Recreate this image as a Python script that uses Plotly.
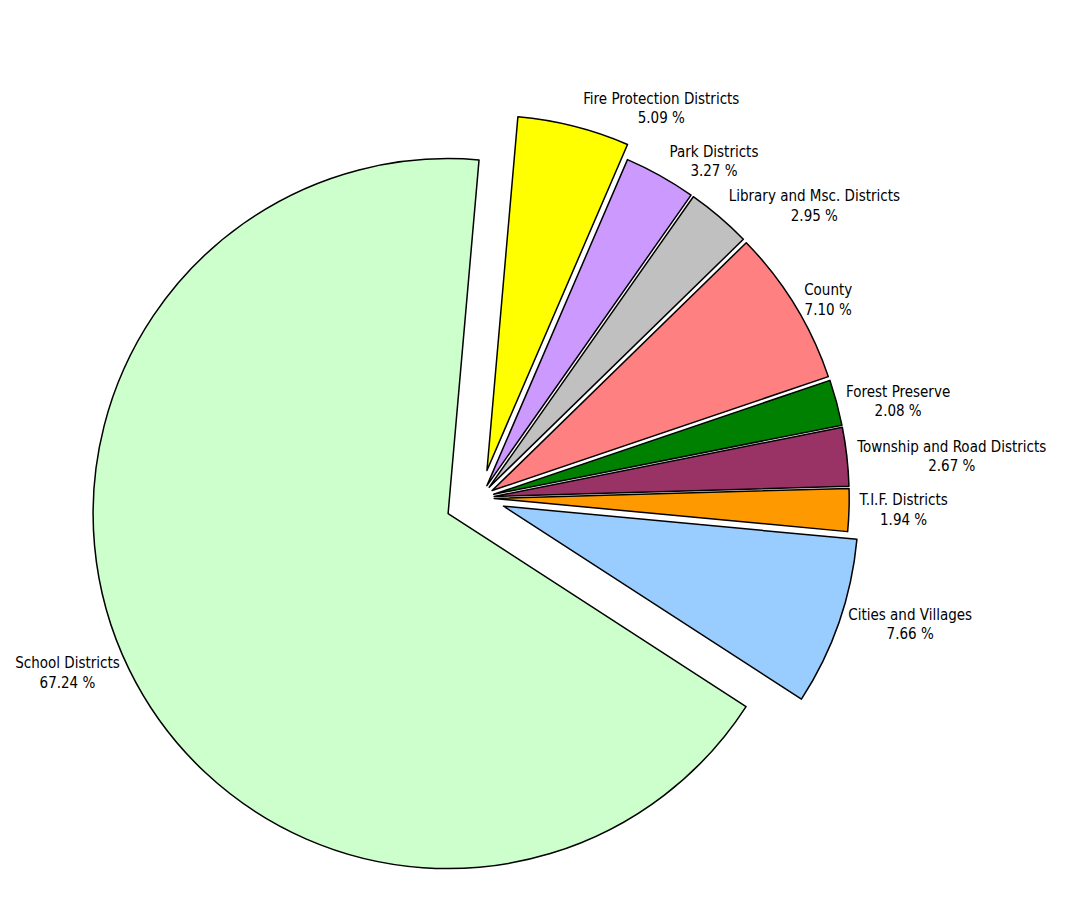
import plotly.graph_objects as go

categories = [
    "Fire Protection Districts",
    "Park Districts",
    "Library and Msc. Districts",
    "County",
    "Forest Preserve",
    "Township and Road Districts",
    "T.I.F. Districts",
    "Cities and Villages",
    "School Districts",
]
shares = [5.09, 3.27, 2.95, 7.10, 2.08, 2.67, 1.94, 7.66, 67.24]
colors = ["#FFFF00", "#CC99FF", "#C0C0C0", "#FF8080", "#008000",
          "#993366", "#FF9900", "#99CCFF", "#CCFFCC"]
pulls = [0.08, 0.04, 0.04, 0.04, 0.04, 0.04, 0.04, 0.07, 0.10]

FONT = "DejaVu Sans Condensed, Liberation Sans Narrow, Arial Narrow, sans-serif"

fig = go.Figure(go.Pie(
    labels=categories,
    values=shares,
    sort=False,
    direction="clockwise",
    rotation=5,
    pull=pulls,
    automargin=False,
    marker=dict(colors=colors, line=dict(color="#000000", width=1.5)),
    textposition="outside",
    texttemplate="%{label}<br>%{value:.2f} %",
    textfont=dict(family=FONT, size=15, color="#000000"),
    outsidetextfont=dict(family=FONT, size=15, color="#000000"),
    showlegend=False,
    hoverinfo="label+percent",
    domain=dict(x=[0.0763, 0.8076], y=[0.0398, 0.8915]),
))

fig.update_layout(
    width=1068,
    height=917,
    autosize=False,
    margin=dict(l=0, r=0, t=0, b=0, autoexpand=False),
    paper_bgcolor="#FFFFFF",
    plot_bgcolor="#FFFFFF",
)

fig.write_html("out.html")
